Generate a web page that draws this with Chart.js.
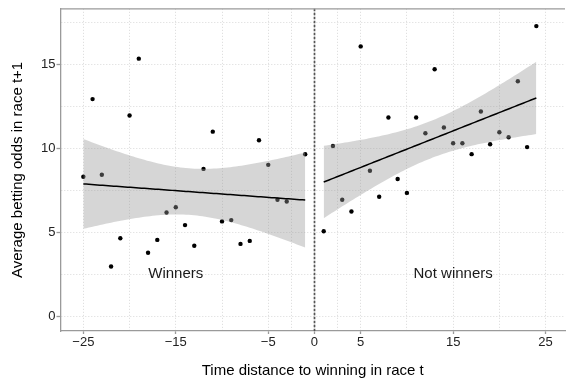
<!DOCTYPE html>
<html>
<head>
<meta charset="utf-8">
<script src="https://cdn.jsdelivr.net/npm/chart.js@4/dist/chart.umd.min.js"></script>
<style>
  html, body { margin: 0; padding: 0; background: #fff; }
  #wrap { width: 569px; height: 383px; }
</style>
</head>
<body>
<div id="wrap"><canvas id="c" width="569" height="383"></canvas></div>
<script>
// Races before a win (negative distance) and after a win (positive distance)
const WINNERS_X = [-25, -24, -23, -22, -21, -20, -19, -18, -17, -16, -15, -14, -13, -12, -11, -10, -9, -8, -7, -6, -5, -4, -3, -1];
const WINNERS_ODDS = [8.31, 12.94, 8.43, 2.96, 4.65, 11.96, 15.35, 3.78, 4.55, 6.18, 6.49, 5.43, 4.20, 8.78, 11.00, 5.65, 5.73, 4.31, 4.49, 10.49, 9.02, 6.94, 6.84, 9.65];

const NOT_WINNERS_X = [1, 2, 3, 4, 5, 6, 7, 8, 9, 10, 11, 12, 13, 14, 15, 16, 17, 18, 19, 20, 21, 22, 23, 24];
const NOT_WINNERS_ODDS = [5.06, 10.14, 6.94, 6.24, 16.08, 8.67, 7.12, 11.84, 8.18, 7.35, 11.84, 10.90, 14.72, 11.25, 10.31, 10.31, 9.66, 12.20, 10.25, 10.96, 10.67, 14.00, 10.08, 17.29];

// Axis ticks and grid
const X_TICK_VALUES = [-25, -15, -5, 0, 5, 15, 25];
const X_TICK_LABELS = ['\u221225', '\u221215', '\u22125', '0', '5', '15', '25'];
const X_GRID_VALUES = [-25, -20, -15, -10, -5, -2.5, 0, 2.5, 5, 10, 15, 20, 25];
const Y_TICK_VALUES = [0, 5, 10, 15];
const Y_TICK_LABELS = ['0', '5', '10', '15'];
const Y_GRID_VALUES = [0, 2.5, 5, 7.5, 10, 12.5, 15, 17.5];

// Group captions
const GROUP_LABELS = ['Winners', 'Not winners'];
const GROUP_LABEL_X = [-15, 15];
const GROUP_LABEL_Y = [2.5, 2.5];

const BREAK_X = 0;

// Two-sided 95% t quantile for 22 residual degrees of freedom (n = 24 per group)
const T_CRIT = 2.0739;

// Least squares line with 95% confidence band for the mean
function linearFit(xs, ys, steps) {
  const n = xs.length;
  const mx = xs.reduce((a, b) => a + b, 0) / n;
  const my = ys.reduce((a, b) => a + b, 0) / n;
  let sxx = 0, sxy = 0;
  for (let i = 0; i < n; i++) {
    sxx += (xs[i] - mx) * (xs[i] - mx);
    sxy += (xs[i] - mx) * (ys[i] - my);
  }
  const b = sxy / sxx;
  const a = my - b * mx;
  let sse = 0;
  for (let i = 0; i < n; i++) {
    const r = ys[i] - (a + b * xs[i]);
    sse += r * r;
  }
  const s = Math.sqrt(sse / (n - 2));
  const x0 = Math.min(...xs), x1 = Math.max(...xs);
  const fit = [], upper = [], lower = [];
  for (let k = 0; k <= steps; k++) {
    const x = x0 + (x1 - x0) * k / steps;
    const yhat = a + b * x;
    const se = s * Math.sqrt(1 / n + (x - mx) * (x - mx) / sxx);
    fit.push({ x, y: yhat });
    upper.push({ x, y: yhat + T_CRIT * se });
    lower.push({ x, y: yhat - T_CRIT * se });
  }
  return { fit, upper, lower };
}

const leftFit = linearFit(WINNERS_X, WINNERS_ODDS, 80);
const rightFit = linearFit(NOT_WINNERS_X, NOT_WINNERS_ODDS, 80);

const toPoints = (xs, ys) => xs.map((x, i) => ({ x, y: ys[i] }));

const FONT = "'Liberation Sans', Arial, Helvetica, sans-serif";
const AXIS_GREY = '#9a9a9a';
const GRID_GREY = '#d9d9d9';
const BAND_FILL = 'rgba(153,153,153,0.4)';

function bandDataset(data, fill) {
  return {
    type: 'line', data, order: 1,
    borderWidth: 0, borderColor: 'rgba(0,0,0,0)',
    pointRadius: 0, tension: 0,
    backgroundColor: BAND_FILL, fill
  };
}
function fitDataset(data) {
  return {
    type: 'line', data, order: 0,
    borderColor: '#000', borderWidth: 1.5,
    pointRadius: 0, tension: 0, fill: false
  };
}

// Reference line at the moment of winning
const breakLine = {
  id: 'breakLine',
  beforeDatasetsDraw(chart) {
    const { ctx, chartArea, scales } = chart;
    const px = Math.round(scales.x.getPixelForValue(BREAK_X)) + 0.5;
    ctx.save();
    ctx.strokeStyle = '#555';
    ctx.lineWidth = 1.7;
    ctx.setLineDash([2.5, 1.5]);
    ctx.beginPath();
    ctx.moveTo(px, chartArea.top);
    ctx.lineTo(px, chartArea.bottom);
    ctx.stroke();
    ctx.restore();
  }
};

// Captions for each group
const groupCaptions = {
  id: 'groupCaptions',
  afterDatasetsDraw(chart) {
    const { ctx, scales } = chart;
    ctx.save();
    ctx.font = '15px ' + FONT;
    ctx.fillStyle = '#1a1a1a';
    ctx.textAlign = 'center';
    ctx.textBaseline = 'middle';
    GROUP_LABELS.forEach((t, i) => {
      ctx.fillText(t, scales.x.getPixelForValue(GROUP_LABEL_X[i]), scales.y.getPixelForValue(GROUP_LABEL_Y[i]));
    });
    ctx.restore();
  }
};

// Panel outline along the top edge
const topBorder = {
  id: 'topBorder',
  afterDraw(chart) {
    const { ctx, chartArea } = chart;
    ctx.save();
    ctx.strokeStyle = AXIS_GREY;
    ctx.lineWidth = 1.3;
    ctx.beginPath();
    ctx.moveTo(chartArea.left, chartArea.top);
    ctx.lineTo(chartArea.right, chartArea.top);
    ctx.stroke();
    ctx.restore();
  }
};

new Chart(document.getElementById('c'), {
  type: 'scatter',
  data: {
    datasets: [
      fitDataset(leftFit.fit),
      fitDataset(rightFit.fit),
      bandDataset(leftFit.upper, false),
      bandDataset(leftFit.lower, '-1'),
      bandDataset(rightFit.upper, false),
      bandDataset(rightFit.lower, '-1'),
      {
        type: 'scatter', order: 2,
        data: toPoints(WINNERS_X, WINNERS_ODDS).concat(toPoints(NOT_WINNERS_X, NOT_WINNERS_ODDS)),
        pointRadius: 2.2, pointBackgroundColor: '#000', pointBorderWidth: 0
      }
    ]
  },
  options: {
    responsive: false,
    animation: false,
    layout: { padding: { top: 4, left: 0, right: 0, bottom: 0 } },
    plugins: { legend: { display: false }, tooltip: { enabled: false } },
    scales: {
      x: {
        type: 'linear', min: -27.47, max: 27.1,
        afterBuildTicks: s => { s.ticks = X_GRID_VALUES.map(v => ({ value: v })); },
        afterFit: s => { s.height = 52; },
        ticks: {
          autoSkip: false, maxRotation: 0, padding: 1,
          color: '#222', font: { family: FONT, size: 13 },
          callback: v => { const i = X_TICK_VALUES.indexOf(v); return i >= 0 ? X_TICK_LABELS[i] : ''; }
        },
        grid: {
          color: GRID_GREY, lineWidth: 1, tickLength: 3,
          tickColor: c => X_TICK_VALUES.includes(c.tick && c.tick.value) ? AXIS_GREY : 'rgba(0,0,0,0)',
          tickWidth: 1.3, tickBorderDash: []
        },
        border: { display: true, color: AXIS_GREY, width: 1.3, dash: [1, 2] },
        title: {
          display: true, text: 'Time distance to winning in race t',
          color: '#000', font: { family: FONT, size: 15 }, padding: { top: 0, bottom: 3 }
        }
      },
      y: {
        type: 'linear', min: -0.88, max: 18.32,
        afterBuildTicks: s => { s.ticks = Y_GRID_VALUES.map(v => ({ value: v })); },
        afterFit: s => { s.width = 60.5; },
        ticks: {
          autoSkip: false, padding: 1,
          color: '#222', font: { family: FONT, size: 13 },
          callback: v => { const i = Y_TICK_VALUES.indexOf(v); return i >= 0 ? Y_TICK_LABELS[i] : ''; }
        },
        grid: {
          color: GRID_GREY, lineWidth: 1, tickLength: 4,
          tickColor: c => Y_TICK_VALUES.includes(c.tick && c.tick.value) ? AXIS_GREY : 'rgba(0,0,0,0)',
          tickWidth: 1.3, tickBorderDash: []
        },
        border: { display: true, color: AXIS_GREY, width: 1.3, dash: [1, 2] },
        title: {
          display: true, text: 'Average betting odds in race t+1',
          color: '#000', font: { family: FONT, size: 15 }, padding: { top: 9, bottom: 0 }
        }
      }
    }
  },
  plugins: [breakLine, groupCaptions, topBorder]
});
</script>
</body>
</html>
